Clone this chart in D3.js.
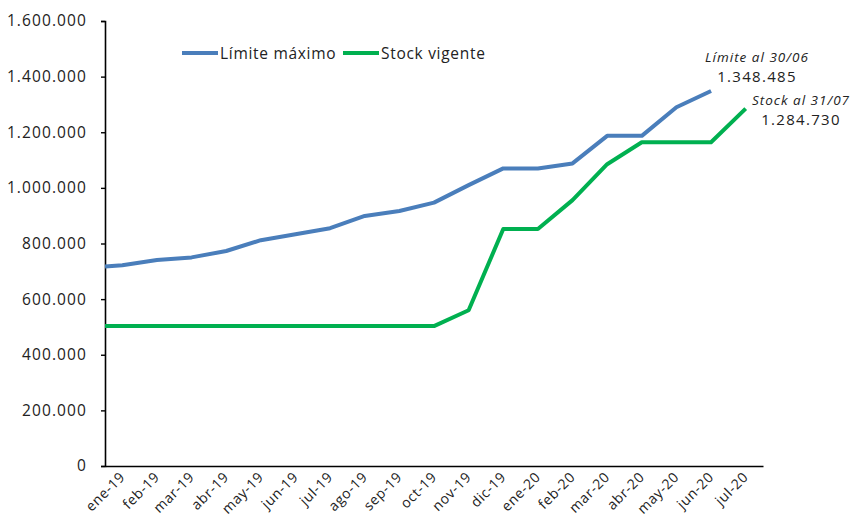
<!DOCTYPE html>
<html><head><meta charset="utf-8">
<script src="https://cdn.jsdelivr.net/npm/d3@7"></script>
<style>body{margin:0;background:#fff}svg{display:block}text{font-family:"Open Sans",Lato,sans-serif;fill:#222}</style>
</head><body>
<svg id="c" width="852" height="521"></svg>
<script>
const categories = ["ene-19","feb-19","mar-19","abr-19","may-19","jun-19","jul-19","ago-19","sep-19","oct-19","nov-19","dic-19","ene-20","feb-20","mar-20","abr-20","may-20","jun-20","jul-20"];
// value at the left edge of the axis (line starts at the axis)
const limiteInicio = 717000;
const stockInicio = 503000;
const limiteMaximo = [722000,741000,750000,773000,812000,833000,855000,899000,917000,947000,1010000,1070000,1070000,1088000,1187000,1187000,1290000,1348485,null];
const stockVigente = [503000,503000,503000,503000,503000,503000,503000,503000,503000,503000,560000,852000,852000,956000,1085000,1164000,1164000,1164000,1284730];
const yTicks = [0,200000,400000,600000,800000,1000000,1200000,1400000,1600000];
const seriesNames = ["Límite máximo","Stock vigente"];
const colors = ["#4A7EBB","#00B050"];

const svg = d3.select("#c");
const m = {l:105, r:763, t:21, b:466};
const x = d3.scaleLinear().domain([-0.5, categories.length-0.5]).range([m.l, m.r]);
const y = d3.scaleLinear().domain([0,1600000]).range([m.b, m.t]);
const fmt = v => d3.format(",")(v).replace(/,/g,".");

// Y axis
const ya = svg.append("g").attr("transform",`translate(${m.l},0)`)
  .call(d3.axisLeft(y).tickValues(yTicks).tickSize(4).tickPadding(14).tickFormat(fmt));
ya.select(".domain").attr("stroke","#000").attr("stroke-width",1.6);
ya.selectAll(".tick line").attr("stroke","#000").attr("stroke-width",1.4);
ya.selectAll(".tick text").style("font-size","15.5px").style("letter-spacing","1.1px").attr("fill","#222");

// X axis
const xa = svg.append("g").attr("transform",`translate(0,${m.b})`)
  .call(d3.axisBottom(x).tickValues(d3.range(categories.length)).tickSize(0).tickFormat(i=>categories[i]));
xa.select(".domain").attr("stroke","#000").attr("stroke-width",1.6);
xa.selectAll(".tick text").style("font-size","14px").style("letter-spacing","0.6px").attr("fill","#222")
  .attr("text-anchor","end").attr("dy",null).attr("y",null)
  .attr("transform","translate(3,12) rotate(-45)");

function pts(start, arr){
  const p = [[-0.5,start]];
  arr.forEach((v,i)=>{ if(v!=null) p.push([i,v]); });
  return p;
}
const line = d3.line().x(d=>x(d[0])).y(d=>y(d[1]));
[pts(limiteInicio, limiteMaximo), pts(stockInicio, stockVigente)].forEach((p,k)=>{
  svg.append("path").attr("d",line(p)).attr("fill","none")
    .attr("stroke",colors[k]).attr("stroke-width",4).attr("stroke-linejoin","round");
});

// Legend
const leg = [{x0:182,name:seriesNames[0],c:colors[0]},{x0:343,name:seriesNames[1],c:colors[1]}];
leg.forEach(d=>{
  svg.append("line").attr("x1",d.x0).attr("x2",d.x0+36).attr("y1",53).attr("y2",53)
    .attr("stroke",d.c).attr("stroke-width",4);
  svg.append("text").attr("x",d.x0+38).attr("y",58.5).style("font-size","15.5px").style("letter-spacing","0.7px").text(d.name);
});

// Annotations
const lastL = limiteMaximo[17], lastS = stockVigente[18];
const ann = [
  {cx:757, y1:62, y2:82, t1:"Límite al 30/06", t2:fmt(lastL)},
  {cx:801, y1:105, y2:125, t1:"Stock al 31/07", t2:fmt(lastS)}
];
ann.forEach(a=>{
  svg.append("text").attr("x",a.cx).attr("y",a.y1).attr("text-anchor","middle")
    .style("font-size","13.5px").style("font-style","italic").style("letter-spacing","1px").text(a.t1);
  svg.append("text").attr("x",a.cx).attr("y",a.y2).attr("text-anchor","middle")
    .style("font-size","15px").style("letter-spacing","1.3px").text(a.t2);
});
</script>
</body></html>
